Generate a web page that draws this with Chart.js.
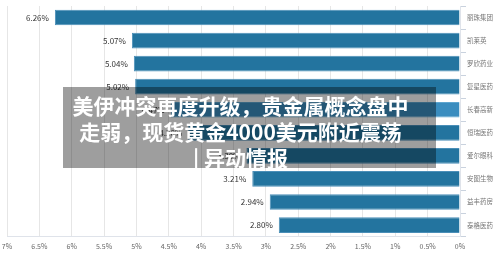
<!DOCTYPE html>
<html>
<head>
<meta charset="utf-8">
<script src="https://cdn.jsdelivr.net/npm/chart.js@4/dist/chart.umd.min.js"></script>
<style>
  html, body { margin: 0; padding: 0; background: #fff; }
  #wrap { position: relative; width: 500px; height: 265px; }
  #overlay {
    position: absolute; left: 63px; top: 87px; width: 373px; height: 81px;
    box-sizing: border-box; padding: 5px 18px 0 0;
    background: rgba(0, 0, 0, 0.38);
    color: #fff; text-align: center;
    font: bold 21px/26px "Noto Sans CJK SC", sans-serif;
    white-space: nowrap;
  }
</style>
</head>
<body>
<div id="wrap">
  <canvas id="myChart" width="500" height="265"></canvas>
  <div id="overlay">美伊冲突再度升级，贵金属概念盘中<br>走弱，现货黄金4000美元附近震荡<br>| 异动情报</div>
</div>
<script>
const names = ['丽珠集团', '凯莱英', '罗欣药业', '复星医药', '长春高新', '恒瑞医药', '爱尔眼科', '安图生物', '益丰药房', '泰格医药'];
const changes = [6.26, 5.07, 5.04, 5.02, 4.47, 4.20, 3.30, 3.21, 2.94, 2.80];
const hoverIndex = 4;

const font = '"Noto Sans CJK SC", "Noto Sans", sans-serif';

// value labels at the end of each bar
const valueLabels = {
  id: 'valueLabels',
  afterDatasetsDraw(chart) {
    let ctx = chart.ctx;
    let meta = chart.getDatasetMeta(0);
    ctx.save();
    ctx.font = '8px ' + font;
    ctx.fillStyle = '#333';
    ctx.textAlign = 'right';
    ctx.textBaseline = 'middle';
    meta.data.forEach((bar, i) => {
      ctx.fillText(changes[i].toFixed(2) + '%', bar.x - 6, bar.y);
    });
    ctx.restore();
  }
};

let ctx = document.getElementById('myChart').getContext('2d');
let chart = new Chart(ctx, {
  type: 'bar',
  data: {
    labels: names,
    datasets: [{
      data: changes,
      backgroundColor: changes.map((v, i) => i === hoverIndex ? '#3a8dbf' : '#23749f'),
      borderColor: changes.map((v, i) => i === hoverIndex ? '#5ea6d0' : '#4b8fb8'),
      borderWidth: 1,
      categoryPercentage: 0.68,
      barPercentage: 1
    }]
  },
  options: {
    indexAxis: 'y',
    responsive: false,
    animation: false,
    layout: { padding: { left: 7, right: 5, top: 6, bottom: 8 } },
    plugins: { legend: { display: false }, tooltip: { enabled: false } },
    scales: {
      x: {
        reverse: true,
        min: 0,
        max: 7,
        afterFit: axis => { axis.paddingLeft = 0; axis.paddingRight = 0; },
        ticks: {
          stepSize: 0.5,
          padding: 6,
          color: '#666',
          font: { size: 7, family: font },
          callback: v => v + '%'
        },
        grid: { color: '#e6e6e6', drawTicks: false },
        border: { color: '#dfe3ea' }
      },
      y: {
        position: 'right',
        afterFit: axis => { axis.width = 35; },
        ticks: {
          padding: 1,
          color: '#777',
          font: { size: 6.5, family: font }
        },
        grid: { drawOnChartArea: false, tickLength: 6, color: '#c9d2de' },
        border: { color: '#dfe3ea' }
      }
    }
  },
  plugins: [valueLabels]
});
</script>
</body>
</html>
